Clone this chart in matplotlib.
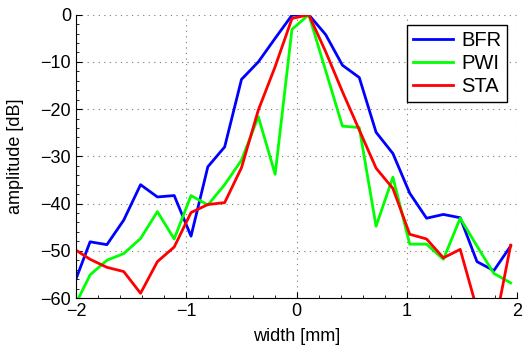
import matplotlib
matplotlib.use("Agg")
import matplotlib.pyplot as plt
from matplotlib.ticker import MultipleLocator

# lateral positions [mm]
width_mm = [-2.025, -1.8725, -1.72, -1.5675, -1.415, -1.2625, -1.11, -0.9575, -0.805,
            -0.6525, -0.5, -0.3475, -0.195, -0.0425, 0.11, 0.2625, 0.415, 0.5675,
            0.72, 0.8725, 1.025, 1.1775, 1.33, 1.4825, 1.635, 1.7875, 1.94]

# amplitudes [dB]
bfr = [-57.5, -48.1, -48.7, -43.5, -36.0, -38.6, -38.3, -46.9, -32.2,
       -28.0, -13.7, -10.0, -5.0, -0.1, 0.0, -4.2, -10.7, -13.3,
       -24.9, -29.4, -37.8, -43.1, -42.3, -43.0, -52.3, -54.2, -49.0]
pwi = [-62.3, -55.1, -52.0, -50.6, -47.4, -41.7, -47.5, -38.3, -40.3,
       -36.0, -30.8, -21.6, -33.8, -3.1, 0.0, -11.8, -23.6, -23.9,
       -44.8, -34.4, -48.6, -48.6, -51.8, -43.1, -49.0, -54.8, -56.8]
sta = [-49.5, -51.8, -53.5, -54.4, -59.0, -52.3, -49.2, -41.9, -40.2,
       -39.8, -32.4, -20.2, -11.0, -0.8, 0.0, -7.8, -16.3, -24.4,
       -32.5, -36.8, -46.5, -47.5, -51.5, -49.7, -62.4, -67.0, -48.8]

plt.rcParams["font.family"] = ["Liberation Sans", "DejaVu Sans"]

fig = plt.figure(figsize=(5.25, 3.52), dpi=100)
ax = fig.add_axes([0.1448, 0.1534, 0.8405, 0.8048])

ax.plot(width_mm, bfr, color="#0000ff", linewidth=2, label="BFR")
ax.plot(width_mm, pwi, color="#00ff00", linewidth=2, label="PWI")
ax.plot(width_mm, sta, color="#ff0000", linewidth=2, label="STA")

ax.set_xlim(-2, 2)
ax.set_ylim(-60, 0)
ax.set_xticks([-2, -1, 0, 1, 2])
ax.set_yticks([0, -10, -20, -30, -40, -50, -60])
ax.yaxis.set_minor_locator(MultipleLocator(2))
ax.xaxis.set_minor_locator(MultipleLocator(0.2))
ax.tick_params(which="both", direction="in", labelsize=13)
ax.tick_params(which="major", length=4)
ax.tick_params(which="minor", length=2)
ax.tick_params(which="both", top=False, right=False)
ax.grid(True, which="major", linestyle=(0, (1, 4)), color="#777777", linewidth=0.8)
for side in ["top", "right"]:
    ax.spines[side].set_visible(False)

ax.set_xlabel("width [mm]", fontsize=13, labelpad=6)
ax.set_ylabel("amplitude [dB]", fontsize=13, labelpad=12)

leg = ax.legend(loc="upper right", fontsize=14.5, fancybox=False, framealpha=1,
                edgecolor="black", borderaxespad=0.5, handlelength=2.0,
                handletextpad=0.4, labelspacing=0.2, borderpad=0.3)
leg.get_frame().set_linewidth(1.0)

fig.savefig("out.png", dpi=100)
plt.close(fig)
